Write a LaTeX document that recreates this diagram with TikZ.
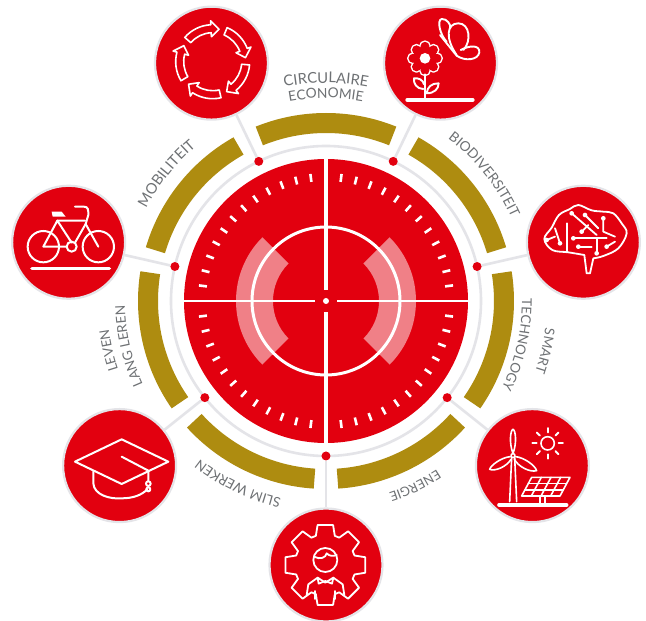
\documentclass[tikz,border=0pt]{standalone}
\usepackage{fontspec}
\usetikzlibrary{decorations.text}
\newfontfamily\lblfont{Lato}
\definecolor{brandred}{HTML}{E2000F}
\definecolor{brandgold}{HTML}{AE8C10}
\definecolor{softgrey}{HTML}{E4E4E8}
\definecolor{lbl}{HTML}{6E7174}
\tikzset{
  x=1pt,y=1pt,
  iconcircle/.style={circle,inner sep=0pt,minimum size=113pt,fill=brandred,draw=softgrey,line width=2.2pt},
  spot/.style={circle,inner sep=0pt,minimum size=9pt,fill=brandred},
  hubdisc/.style={circle,inner sep=0pt,minimum size=284pt,fill=brandred},
  link/.style={softgrey,line width=2.6pt},
  goldarc/.style={brandgold,line width=20pt},
  icon/.style={white,line width=1.9pt,line cap=round,line join=round},
  zoomed/.style={x=0.3333pt,y=-0.3333pt},
  thick3/.style={white,line width=3.6pt,line cap=round}
}
\newcommand{\arclabel}[4]{%
  \path[decorate,decoration={text along path,text align=center,
     text={|\lblfont\fontsize{#4}{16}\selectfont\color{lbl}|#3}}]
     (#1+45:#2) arc[start angle=#1+45,end angle=#1-45,radius=#2];}
\begin{document}
\begin{tikzpicture}
\path[use as bounding box,fill=white] (-326,-320) rectangle (320,301);

% hub and rings
\node[hubdisc] (hub) at (0,0) {};
\draw[softgrey,line width=2.6pt] (hub) circle[radius=155];

% gold arcs
\foreach \a in {90,38.57,-12.86,-64.29,-115.71,-167.14,141.43}
  \draw[goldarc] (\a+22:178) arc[start angle=\a+22,end angle=\a-22,radius=178];

% icon circles, spots, connectors
\foreach \n/\a in {1/115.71,2/64.29,3/12.86,4/-38.57,5/-90,6/-141.43,7/167.14}{
  \node[spot] (d\n) at (\a:155) {};
  \node[iconcircle] (c\n) at (\a:264) {};
  \draw[link] (d\n) -- (c\n);
}

% disc interior
\fill[white,opacity=.5] (135:90) arc[start angle=135,end angle=225,radius=90]
   -- (225:53) arc[start angle=225,end angle=135,radius=53] -- cycle;
\fill[white,opacity=.5] (-45:90) arc[start angle=-45,end angle=45,radius=90]
   -- (45:53) arc[start angle=45,end angle=-45,radius=53] -- cycle;
\draw[white,line width=3pt] (0,0) circle[radius=74];
\draw[white,line width=3.2pt] (90:143) -- (90:11);
\draw[white,line width=3.2pt] (-90:143) -- (-90:11);
\draw[white,line width=2.2pt] (180:143) -- (180:11);
\draw[white,line width=2.2pt] (0:143) -- (0:11);
\fill[white] (0,0) circle[radius=3];
\foreach \q in {0,90,180,270}
  \foreach \k in {0,...,11}
    \draw[white,line width=2.6pt] (\q+7+6.91*\k:120) -- (\q+7+6.91*\k:128);

% labels
\arclabel{90}{218}{CIRCULAIRE}{14.8}
\arclabel{90}{203}{ECONOMIE}{13.7}
\arclabel{38.57}{203}{BIODIVERSITEIT}{13.7}
\arclabel{-12.86}{221}{SMART}{13.5}
\arclabel{-12.86}{196}{TECHNOLOGY}{13.5}
\arclabel{-64.29}{202}{ENERGIE}{13}
\arclabel{-115.71}{202}{SLIM WERKEN}{13.5}
\arclabel{-167.14}{219}{LEVEN}{13.5}
\arclabel{-167.14}{201}{LANG LEREN}{13.5}
\arclabel{141.43}{202}{MOBILITEIT}{14.6}

% circular arrows
\begin{scope}[shift={(-113.3pt,239.3pt)},icon,line width=1.6pt]
  \foreach \t in {79,7,-65,-137,151}
    \draw (\t+60:37) arc[start angle=\t+60,end angle=\t+14,radius=37]
      -- (\t+14:41) -- (\t:33) -- (\t+14:25) -- (\t+14:29)
      arc[start angle=\t+14,end angle=\t+60,radius=29] -- cycle;
\end{scope}

% flower and butterfly
\begin{scope}[shift={(64pt,286pt)},zoomed,icon]
  \foreach \k in {0,45,...,315}
    \draw (105,130)+(\k:36) circle[radius=15];
  \fill[brandred] (105,130) circle[radius=36];
  \foreach \k in {0,45,...,315}
    \fill[brandred] (105,130)+(\k:36) circle[radius=13.5];
  \fill[white] (105,130) circle[radius=16];
  \draw (105,178) -- (105,250);
  \draw (100,222) .. controls (80,222) and (70,205) .. (72,190) .. controls (85,188) and (100,195) .. (102,208);
  \draw (110,235) .. controls (112,215) and (125,205) .. (146,205) .. controls (146,222) and (132,235) .. (110,235);
  \draw[thick3,line width=4pt] (52,255) -- (248,255);
  \draw (200,120) .. controls (165,70) and (170,25) .. (205,25) .. controls (240,25) and (245,80) .. (220,105);
  \draw (212,105) .. controls (240,90) and (270,90) .. (268,112) .. controls (265,135) and (225,140) .. (200,122);
  \draw (170,80) .. controls (150,60) and (140,15) .. (155,12) .. controls (170,10) and (185,30) .. (180,40);
  \draw (150,60) -- (200,122);
\end{scope}

% brain
\begin{scope}[shift={(209pt,106pt)},zoomed,icon,line width=1.8pt]
  \draw plot[smooth,tension=.6] coordinates {(148,180) (100,172) (52,165) (28,132) (50,98) (72,60) (105,42) (130,30) (170,46) (205,50) (235,55) (260,85) (275,115) (250,160) (205,183) (175,190)}
     -- (165,235) -- (155,235) -- (148,180);
  \draw (115,130) -- (215,130);
  \draw (185,130) -- (185,175);
  \draw (130,155) -- (170,155);
  \draw (95,85) -- (95,170);
  \draw (60,100) -- (75,145);
  \draw (35,135) -- (60,125);
  \draw (110,55) -- (185,120);
  \draw (150,60) -- (190,100);
  \draw (205,70) -- (205,110) -- (240,125);
  \draw (215,155) -- (240,140);
  \draw (140,110) -- (160,90);
  \foreach \p in {(115,130),(185,175),(75,145),(35,135),(110,55),(150,60),(205,70),(215,155),(140,110),(130,155)}
    \fill[white] \p circle[radius=7];
\end{scope}

% wind turbine, sun, solar panel
\begin{scope}[shift={(159pt,-119pt)},zoomed,icon,line width=1.6pt]
  \draw (74,245) -- (80,112) (95,245) -- (89,112);
  \draw (84,100) .. controls (72,70) and (76,30) .. (84,28) .. controls (92,30) and (96,70) .. (84,100);
  \draw (76,110) .. controls (50,112) and (18,135) .. (14,148) .. controls (30,155) and (65,140) .. (78,118);
  \draw (92,110) .. controls (115,112) and (150,135) .. (155,152) .. controls (135,158) and (100,140) .. (88,118);
  \draw (84,107) circle[radius=6];
  \draw[thick3] (42,255) -- (245,255);
  \draw (188,70) circle[radius=20];
  \foreach \k in {0,45,...,315}
    \draw[line width=1.9pt] (188,70)+(\k:33) -- +(\k:46);
  \draw (140,172) -- (255,172) -- (225,228) -- (110,228) -- cycle;
  \draw (130,191) -- (245,191) (120,210) -- (235,210);
  \draw (169,172) -- (139,228) (198,172) -- (168,228) (227,172) -- (197,228);
  \draw (165,228) -- (165,252) (180,228) -- (180,252);
\end{scope}

% gear and worker
\begin{scope}[shift={(-50pt,-214pt)},zoomed,icon,line width=1.8pt]
  \begin{scope}[shift={(148,150)}]
    \draw (-18:92)
      \foreach \g in {0,45,...,315} { -- (\g-18:92) -- (\g-11:122) -- (\g+11:122) -- (\g+18:92) } -- cycle;
  \end{scope}
  \draw (148,135) circle[radius=36];
  \draw (114,125) .. controls (132,135) and (150,128) .. (152,115) .. controls (160,124) and (172,124) .. (182,120);
  \draw (92,240) -- (97,208) -- (125,188) -- (148,203) -- (172,188) -- (200,208) -- (205,240);
  \draw (125,188) -- (128,206) -- (148,198) -- (168,206) -- (172,188);
  \draw (118,228) -- (118,252) (178,228) -- (178,252);
\end{scope}

% graduation cap
\begin{scope}[shift={(-256pt,-129pt)},zoomed,icon,line width=2pt]
  \draw (15,95) -- (155,28) -- (295,95) -- (155,162) -- cycle;
  \draw (70,125) -- (70,160) .. controls (72,195) and (120,208) .. (155,205) .. controls (190,205) and (215,195) .. (232,178);
  \draw (155,80) -- (235,122) -- (235,152);
  \draw (235,161) circle[radius=7];
  \draw (235,178) circle[radius=6];
\end{scope}

% bicycle
\begin{scope}[shift={(-306pt,101pt)},zoomed,icon,line width=2pt]
  \draw (70,140) circle[radius=47];
  \draw (235,140) circle[radius=47];
  \draw (155,140) circle[radius=15];
  \draw (70,140) -- (112,62) -- (155,128) (70,140) -- (140,140);
  \draw (112,62) -- (195,62) (197,72) -- (165,128);
  \draw (165,20) -- (192,20) .. controls (205,20) and (205,30) .. (205,45) -- (197,72) -- (235,140);
  \fill[white] (95,35) -- (125,35) -- (137,50) -- (98,50) -- cycle;
  \draw[thick3] (36,205) -- (268,205);
\end{scope}
\end{tikzpicture}
\end{document}
